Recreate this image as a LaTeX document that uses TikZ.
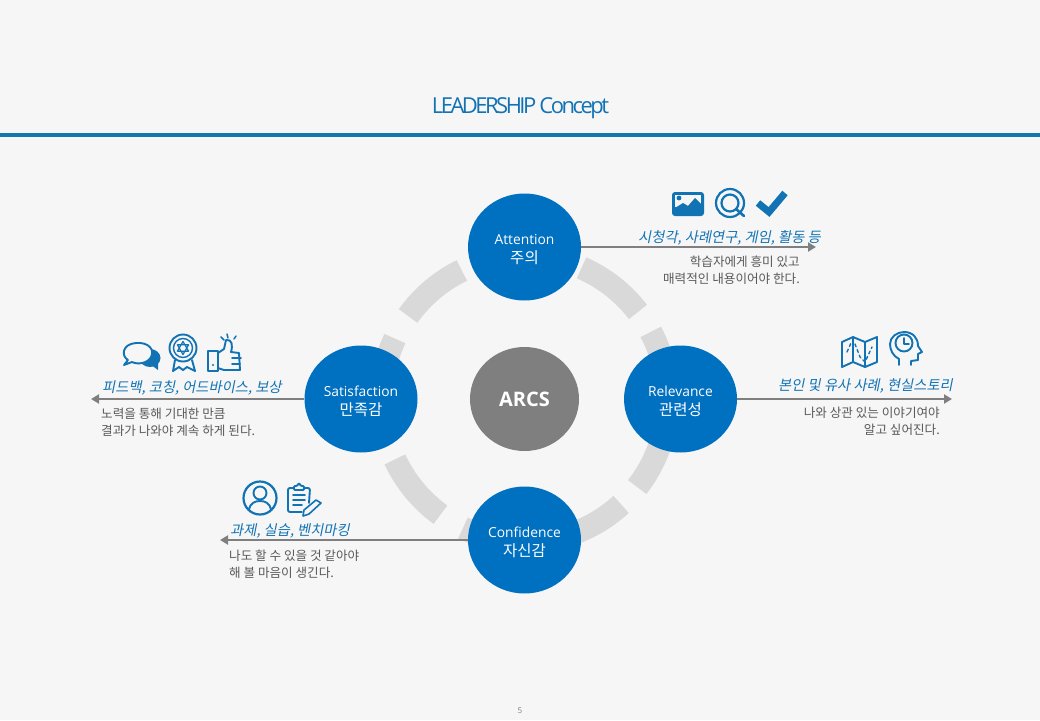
\documentclass[tikz,border=0pt]{standalone}
\usepackage{fontspec}
\usetikzlibrary{shapes.geometric, arrows.meta}
\setmainfont{Open Sans}
\newfontfamily\titlefont[LetterSpace=-11.5]{Open Sans}
\newfontfamily\krfont{Noto Sans CJK KR}
\newfontfamily\krslant[FakeSlant=0.2]{Noto Sans CJK KR}
\definecolor{pagebg}{HTML}{F6F6F6}
\definecolor{barblue}{HTML}{1277AE}
\definecolor{circleblue}{HTML}{0070C0}
\definecolor{iconblue}{HTML}{1273B4}
\definecolor{ringgray}{HTML}{D9D9D9}
\definecolor{midgray}{HTML}{7F7F7F}
\definecolor{bodygray}{HTML}{595959}
\newcommand{\stagetext}[2]{\rule{0pt}{15pt}#1\\{\krfont\fontsize{15.5}{19.5}\selectfont #2}}
\begin{document}
\begin{tikzpicture}[x=1pt, y=-1pt]
        \tikzset{
            stage/.style = {shape=ellipse, fill=circleblue, text=white, inner sep=0pt, minimum width=113pt, minimum height=107pt, align=center, font=\fontsize{13.8}{19.5}\selectfont},
            ringpart/.style = {draw=ringgray, line width=23pt},
            flowline/.style = {draw=midgray, line width=2.6pt, -{Triangle[length=8pt,width=9pt]}},
            tools/.style = {text=iconblue, inner sep=0pt, font=\krslant\fontsize{14.3}{17}\selectfont},
            bodytext/.style = {text=bodygray, inner sep=0pt, font=\krfont\fontsize{12.6}{17}\selectfont},
            icon/.style = {draw=iconblue, line width=1.9pt, line join=round, line cap=round},
        }

        \useasboundingbox (0, 0) rectangle (1040, 720);
        \fill[pagebg] (0, 0) rectangle (1040, 720);
        \fill[barblue] (0, 133) rectangle (1040, 137);

        \node[text=iconblue, inner sep=0pt, font=\titlefont\fontsize{22}{26}\selectfont] (title) at (520.5, 108) {LEADERSHIP Concept};
        \node[text=midgray, inner sep=0pt, font=\fontsize{8}{9}\selectfont] (page) at (520, 711) {5};

        \node[shape=ellipse, fill=midgray, text=white, inner sep=0pt, minimum width=109pt, minimum height=104pt, font=\bfseries\fontsize{20}{23}\selectfont] (arcs) at (524.5, 399) {\raisebox{-4pt}{ARCS}};

        \begin{scope}[shift={(arcs.center)}, x=1pt, y=1pt]
            \foreach \from/\to in {66.5/37.5, 28/10, -10/-38, -47.5/-75, 244.5/262, 205/234, 155/172, 144.5/116}
                \draw[ringpart] (\from:143pt) arc[start angle=\from, end angle=\to, radius=143pt];
        \end{scope}

        \node[stage] (attention) at (524.5, 247) {\stagetext{Attention}{주의}};
        \node[stage] (relevance) at (680.5, 399) {\stagetext{Relevance}{관련성}};
        \node[stage] (satisfaction) at (361, 399) {\stagetext{Satisfaction}{만족감}};
        \node[stage] (confidence) at (524.5, 540) {\stagetext{Confidence}{자신감}};

        \coordinate (attentionend) at (816, 247);
        \coordinate (relevanceend) at (952, 399);
        \coordinate (satisfactionend) at (91, 399);
        \coordinate (confidenceend) at (220, 540);

        \draw[flowline] (attention) -- (attentionend);
        \draw[flowline] (relevance) -- (relevanceend);
        \draw[flowline] (satisfaction) -- (satisfactionend);
        \draw[flowline] (confidence) -- (confidenceend);

        \node[tools, anchor=east] (attentiontools) at (821, 237.5) {시청각, 사례연구, 게임, 활동 등};
        \node[bodytext, anchor=north east, align=right] (attentionbody) at (800, 256) {학습자에게 흥미 있고\\매력적인 내용이어야 한다.};

        \node[tools, anchor=east] (relevancetools) at (953, 386) {본인 및 유사 사례, 현실스토리};
        \node[bodytext, anchor=north east, align=right] (relevancebody) at (940, 406.5) {나와 상관 있는 이야기여야\\알고 싶어진다.};

        \node[tools, anchor=west] (satisfactiontools) at (102, 388) {피드백, 코칭, 어드바이스, 보상};
        \node[bodytext, anchor=north west, align=left] (satisfactionbody) at (101, 407.5) {노력을 통해 기대한 만큼\\결과가 나와야 계속 하게 된다.};

        \node[tools, anchor=west] (confidencetools) at (230, 531) {과제, 실습, 벤치마킹};
        \node[bodytext, anchor=north west, align=left] (confidencebody) at (229, 549.5) {나도 할 수 있을 것 같아야\\해 볼 마음이 생긴다.};

        % picture, magnifier, check
        \fill[iconblue, rounded corners=3pt] (672, 192) rectangle (704, 216);
        \fill[pagebg] (675, 195) rectangle (701, 207);
        \fill[iconblue] (679, 198) circle (2.4);
        \fill[iconblue] (675, 208) -- (683, 203) -- (688, 206) -- (695, 198) -- (701, 204) -- (701, 213) -- (675, 213) -- cycle;
        \draw[icon, line width=2.2pt] (730, 203) circle (14);
        \draw[icon, line width=2.2pt] (730, 203) circle (8.5);
        \draw[icon, line width=2.6pt] (736, 209) -- (744, 216);
        \draw[icon, line width=7pt, line cap=butt, line join=miter] (758, 203) -- (769, 212) -- (785, 193);

        % map, head with clock
        \draw[icon] (842, 342) -- (853, 337) -- (865, 342) -- (877, 337) -- (877, 362) -- (865, 367) -- (853, 362) -- (842, 367) -- cycle;
        \draw[icon] (853, 337) -- (853, 362) (865, 342) -- (865, 367);
        \draw[icon, line width=1.4pt, dash pattern=on 3pt off 3pt] (847, 352) -- (851, 343) (855, 344) -- (860, 357) -- (865, 362) -- (872, 347);
        \draw[icon] (904, 343) circle (8.5);
        \draw[icon, line width=1.6pt] (904, 338) -- (904, 344) -- (909, 344);
        \draw[icon] (899, 365) -- (899, 359) .. controls (893, 356) and (890, 350) .. (890, 344) .. controls (890, 337) and (897, 332) .. (904, 332) .. controls (913, 332) and (918, 338) .. (918, 346) -- (922, 352) -- (918, 354) -- (918, 360) -- (911, 361) -- (911, 365);

        % speech bubbles, rosette, thumb
        \fill[iconblue] (150, 358) ellipse (10.5 and 9);
        \fill[iconblue] (150, 364) -- (158, 370) -- (158, 358) -- cycle;
        \fill[pagebg] (136.5, 353) ellipse (15.5 and 11.5);
        \draw[icon, fill=pagebg] (128, 360) .. controls (121, 356) and (122, 344) .. (136, 343) .. controls (149, 342) and (155, 350) .. (151, 357) .. controls (148, 363) and (138, 365) .. (132, 362) -- (124, 365) -- cycle;
        \draw[icon] (183, 348) circle (13.5);
        \draw[icon, line width=1.4pt] (183, 348) circle (9.5);
        \draw[icon, line width=1.2pt] (183, 341.5) -- (188.6, 351.2) -- (177.4, 351.2) -- cycle (183, 354.5) -- (177.4, 344.8) -- (188.6, 344.8) -- cycle;
        \draw[icon] (175, 360) -- (173, 371) -- (179, 367) -- (183, 370) -- (187, 367) -- (195, 371) -- (192, 360);
        \draw[icon] (208, 351) rectangle (218, 371);
        \fill[iconblue] (213, 365) circle (1.2);
        \draw[icon] (218, 353) -- (224, 349) -- (226, 340) .. controls (232, 339) and (233, 345) .. (231, 352) -- (239, 353) -- (240, 370) -- (224, 370) -- (218, 368);
        \draw[icon] (232, 358) -- (241, 358) (232, 364) -- (240, 364);
        \draw[icon, line width=1.5pt] (221, 337) -- (224, 340) (227, 334) -- (228, 338) (236, 336) -- (234, 339);

        % person, clipboard
        \draw[icon, line width=2.2pt] (260, 498) circle (16.5);
        \draw[icon] (260, 493) circle (6.5);
        \draw[icon] (249, 510) .. controls (250, 503) and (255, 501) .. (260, 501) .. controls (265, 501) and (270, 503) .. (271, 510);
        \draw[icon, rounded corners=2pt] (293, 488) -- (288, 488) -- (288, 512) -- (302, 512) (309, 503) -- (310, 488) -- (305, 488);
        \draw[icon, rounded corners=1pt] (294, 490) -- (294, 486) -- (297, 486) -- (299, 483) -- (301, 486) -- (304, 486) -- (304, 490) -- cycle;
        \draw[icon, line width=1.6pt] (293, 495) -- (305, 495) (293, 500) -- (305, 500) (293, 505) -- (302, 505);
        \draw[icon, line width=1.6pt] (303, 516) -- (304, 510) -- (316, 500) -- (321, 503) -- (309, 514) -- cycle;
\end{tikzpicture}
\end{document}
